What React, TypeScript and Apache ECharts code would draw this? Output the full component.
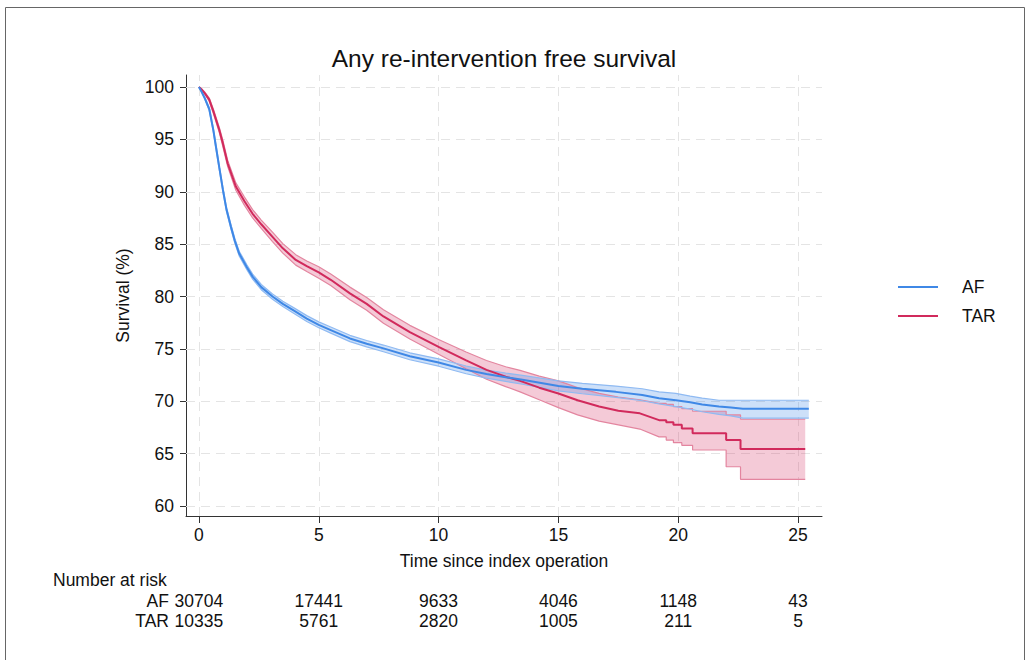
import React, { useEffect, useRef } from "react";
import * as echarts from "echarts";

const FONT = '"Liberation Sans", Arial, Helvetica, sans-serif';

const TITLE = "Any re-intervention free survival";
const X_NAME = "Time since index operation";
const Y_NAME = "Survival (%)";
const X_TICKS = [0, 5, 10, 15, 20, 25];
const Y_TICKS = [60, 65, 70, 75, 80, 85, 90, 95, 100];
const GROUPS = ["AF", "TAR"];

// AF (blue): time, survival, upper CI, lower CI
const AF_T = [0, 0.1, 0.25, 0.43, 0.6, 0.71, 0.85, 1.0, 1.15, 1.33, 1.5, 1.68, 2.0, 2.24, 2.6, 3.07, 3.5, 4.0, 4.5, 5.0, 5.5, 6.3, 7.0, 7.7, 8.8, 10.0, 11.15, 12.0, 12.8, 13.5, 15.0, 16.0, 17.4, 18.5, 19.2, 19.9, 20.5, 21.0, 21.7, 22.2, 22.7, 25.45];
const AF_S = [100, 99.6, 98.9, 97.9, 95.9, 94.3, 92.3, 90.2, 88.3, 86.7, 85.3, 84.1, 82.8, 81.9, 80.9, 80.0, 79.3, 78.6, 77.9, 77.3, 76.8, 76.0, 75.5, 75.05, 74.3, 73.7, 73.0, 72.6, 72.3, 72.05, 71.45, 71.2, 70.9, 70.6, 70.3, 70.1, 69.9, 69.7, 69.5, 69.4, 69.3, 69.3];
const AF_HI = [100, 99.65, 99.0, 98.05, 96.05, 94.5, 92.5, 90.4, 88.5, 86.92, 85.52, 84.33, 83.03, 82.14, 81.15, 80.25, 79.56, 78.87, 78.18, 77.58, 77.09, 76.3, 75.8, 75.37, 74.63, 74.05, 73.37, 72.98, 72.7, 72.47, 71.95, 71.72, 71.45, 71.2, 70.9, 70.75, 70.5, 70.3, 70.1, 70.1, 70.1, 70.1];
const AF_LO = [100, 99.55, 98.8, 97.75, 95.75, 94.1, 92.1, 90.0, 88.1, 86.48, 85.08, 83.87, 82.57, 81.66, 80.65, 79.75, 79.04, 78.33, 77.62, 77.02, 76.51, 75.7, 75.2, 74.73, 73.97, 73.35, 72.63, 72.22, 71.9, 71.63, 71.0, 70.72, 70.38, 70.05, 69.75, 69.5, 69.25, 69.0, 68.75, 68.6, 68.4, 68.4];

// TAR (red): time, survival, upper CI, lower CI
const TAR_T = [0, 0.1, 0.25, 0.43, 0.6, 0.85, 1.0, 1.2, 1.54, 1.9, 2.24, 2.6, 3.07, 3.5, 4.04, 4.5, 5.0, 5.5, 6.3, 7.0, 7.7, 8.8, 10.0, 11.15, 12.0, 12.8, 13.4, 14.2, 15.0, 15.8, 16.7, 17.5, 18.4, 19.2, 19.5, 19.5, 19.8, 19.8, 20.15, 20.15, 20.6, 20.6, 22.0, 22.0, 22.6, 22.6, 25.3];
const TAR_S = [100, 99.8, 99.4, 98.8, 97.7, 95.9, 94.6, 92.7, 90.5, 89.1, 87.9, 86.9, 85.7, 84.6, 83.5, 82.9, 82.3, 81.6, 80.3, 79.3, 78.1, 76.6, 75.2, 73.9, 73.0, 72.35, 71.95, 71.3, 70.75, 70.1, 69.5, 69.1, 68.85, 68.2, 68.2, 68.0, 68.0, 67.75, 67.75, 67.4, 67.4, 66.95, 66.95, 66.3, 66.3, 65.45, 65.45];
const TAR_HI = [100, 99.85, 99.5, 98.95, 97.9, 96.15, 94.9, 93.0, 90.85, 89.5, 88.3, 87.3, 86.15, 85.05, 84.0, 83.4, 82.85, 82.15, 80.9, 79.9, 78.75, 77.25, 75.9, 74.7, 73.9, 73.3, 72.95, 72.4, 71.95, 71.3, 70.75, 70.4, 70.15, 69.8, 69.8, 69.7, 69.7, 69.5, 69.5, 69.3, 69.3, 69.05, 69.05, 68.7, 68.7, 68.3, 68.3];
const TAR_LO = [100, 99.75, 99.3, 98.65, 97.5, 95.65, 94.3, 92.4, 90.15, 88.7, 87.5, 86.5, 85.25, 84.15, 83.0, 82.4, 81.75, 81.05, 79.7, 78.7, 77.45, 75.95, 74.5, 73.1, 72.1, 71.4, 70.9, 70.15, 69.4, 68.7, 68.1, 67.75, 67.35, 66.6, 66.6, 66.3, 66.3, 66.05, 66.05, 65.8, 65.8, 65.35, 65.35, 63.75, 63.75, 62.55, 62.55];

// Number at risk table
const RISK_TIMES = [0, 5, 10, 15, 20, 25];
const RISK_AF = [30704, 17441, 9633, 4046, 1148, 43];
const RISK_TAR = [10335, 5761, 2820, 1005, 211, 5];

const AF_COLOR = "#3f88e6";
const AF_EDGE = "#8fbaf2";
const AF_FILL = "rgba(70,140,232,0.27)";
const TAR_COLOR = "#d12a5c";
const TAR_EDGE = "#e3859f";
const TAR_FILL = "rgba(214,60,108,0.27)";

const zip = (t: number[], v: number[]) => t.map((x, i) => [x, v[i]]);

function bandSeries(name: string, t: number[], hi: number[], lo: number[], fill: string, z: number) {
  return {
    type: "custom",
    name,
    silent: true,
    z,
    clip: true,
    data: [[t[0], hi[0]]],
    encode: { x: 0, y: 1 },
    renderItem: (_p: any, api: any) => {
      const pts: number[][] = [];
      for (let i = 0; i < t.length; i++) pts.push(api.coord([t[i], hi[i]]));
      for (let i = t.length - 1; i >= 0; i--) pts.push(api.coord([t[i], lo[i]]));
      return { type: "polygon", shape: { points: pts }, style: { fill, stroke: "none" } };
    },
  };
}

function lineSeries(name: string, data: number[][], color: string, width: number, z: number) {
  return {
    type: "line",
    name,
    data,
    z,
    color,
    symbol: "none",
    showSymbol: false,
    silent: true,
    lineStyle: { color, width },
    itemStyle: { color },
  };
}

export default function App() {
  const ref = useRef<HTMLDivElement>(null);
  useEffect(() => {
    document.body.style.margin = "0";
    const chart = echarts.init(ref.current!, null, { renderer: "svg" });
    const gridLine = { color: "#e4e4e4", width: 1, type: [9, 6] };
    const option: any = {
      animation: false,
      backgroundColor: "#fff",
      textStyle: { fontFamily: FONT },
      grid: { left: 186, top: 75, right: 207, bottom: 144 },
      legend: {
        orient: "vertical",
        left: 893,
        top: 273,
        data: GROUPS,
        icon: "rect",
        itemWidth: 40,
        itemHeight: 2,
        itemGap: 11,
        selectedMode: false,
        textStyle: { fontSize: 17.5, color: "#111", fontFamily: FONT, padding: [0, 0, 0, 19] },
      },
      xAxis: {
        type: "value",
        min: -0.54,
        max: 26,
        name: X_NAME,
        nameLocation: "middle",
        nameGap: 36,
        nameTextStyle: { fontSize: 17.5, color: "#111", fontFamily: FONT },
        axisLine: { show: true, onZero: false, lineStyle: { color: "#333", width: 1 } },
        axisTick: { show: true, customValues: X_TICKS, length: 7, lineStyle: { color: "#333" } },
        axisLabel: { customValues: X_TICKS, fontSize: 17.5, color: "#111", margin: 10, fontFamily: FONT },
        splitLine: { show: false },
      },
      yAxis: {
        type: "value",
        min: 59.05,
        max: 101.15,
        name: Y_NAME,
        nameLocation: "middle",
        nameGap: 54,
        nameTextStyle: { fontSize: 17.5, color: "#111", fontFamily: FONT },
        axisLine: { show: true, onZero: false, lineStyle: { color: "#333", width: 1 } },
        axisTick: { show: true, customValues: Y_TICKS, length: 6, lineStyle: { color: "#333" } },
        axisLabel: { customValues: Y_TICKS, fontSize: 17.5, color: "#111", margin: 12, fontFamily: FONT },
        splitLine: { show: false },
      },
      series: [
        {
          type: "line",
          name: "grid",
          data: [],
          silent: true,
          z: 1,
          markLine: {
            silent: true,
            symbol: "none",
            z: 1,
            label: { show: false },
            lineStyle: gridLine,
            emphasis: { disabled: true },
            data: [
              ...X_TICKS.map((v) => ({ xAxis: v })),
              ...Y_TICKS.map((v) => ({ yAxis: v })),
            ],
          },
        },
        bandSeries("TAR band", TAR_T, TAR_HI, TAR_LO, TAR_FILL, 2),
        bandSeries("AF band", AF_T, AF_HI, AF_LO, AF_FILL, 2),
        lineSeries("TAR upper", zip(TAR_T, TAR_HI), TAR_EDGE, 1.2, 3),
        lineSeries("TAR lower", zip(TAR_T, TAR_LO), TAR_EDGE, 1.2, 3),
        lineSeries("AF upper", zip(AF_T, AF_HI), AF_EDGE, 1.2, 3),
        lineSeries("AF lower", zip(AF_T, AF_LO), AF_EDGE, 1.2, 3),
        lineSeries("TAR", zip(TAR_T, TAR_S), TAR_COLOR, 2, 4),
        lineSeries("AF", zip(AF_T, AF_S), AF_COLOR, 2, 4),
      ],
    };
    chart.setOption(option);

    const xs = RISK_TIMES.map((t) => chart.convertToPixel({ xAxisIndex: 0 }, t) as number);
    const txt = (text: string, x: number, y: number, align: string) => ({
      type: "text",
      silent: true,
      style: { text, x, y, align, verticalAlign: "middle", fontSize: 17.5, fontFamily: FONT, fill: "#111" },
    });
    const rows: any[] = [];
    const rowDefs: [string, number[], number][] = [
      [GROUPS[0], RISK_AF, 601],
      [GROUPS[1], RISK_TAR, 621],
    ];
    rowDefs.forEach(([label, vals, y]) => {
      rows.push(txt(label, xs[0] - 30, y, "right"));
      vals.forEach((v, i) => rows.push(txt(String(v), xs[i], y, "center")));
    });
    const centerX = (chart.convertToPixel({ xAxisIndex: 0 }, -0.54) as number + (chart.convertToPixel({ xAxisIndex: 0 }, 26) as number)) / 2;
    chart.setOption({
      graphic: [
        {
          type: "rect",
          silent: true,
          shape: { x: 5.5, y: 7.5, width: 1019, height: 700 },
          style: { fill: "none", stroke: "#666", lineWidth: 1 },
        },
        {
          type: "text",
          silent: true,
          style: { text: TITLE, x: centerX, y: 58, align: "center", verticalAlign: "middle", fontSize: 24.5, fontFamily: FONT, fill: "#111" },
        },
        txt("Number at risk", 53, 580, "left"),
        ...rows,
      ],
    });
    return () => chart.dispose();
  }, []);
  return <div ref={ref} style={{ width: 1029, height: 660 }} />;
}
